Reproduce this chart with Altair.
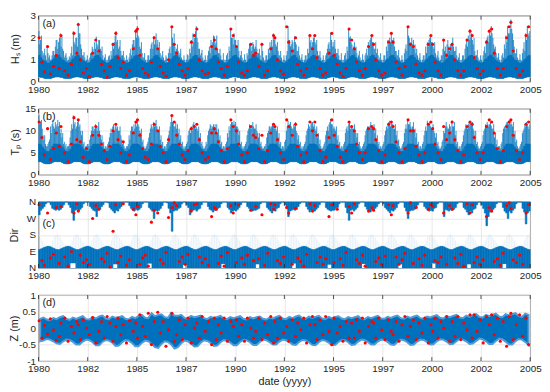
import altair as alt
import pandas as pd

YEARS = list(range(1980, 2005))
X_TICKS = [1980, 1982.5, 1985, 1987.5, 1990, 1992.5, 1995, 1997.5, 2000, 2002.5, 2005]
BLUE = "#0072BD"
RED = "#FF0000"
INK = "#262626"
FONT = "Liberation Sans"

# ---- (a) significant wave height: two spike values per month (Jan..Dec) ----
HS_PEAK = {
    1980: [2.3, 1.9, 1.4, 1.3, 1.2, 1.65, 1.1, 1.0, 1.2, 1.4, 1.6, 1.9],
    1981: [1.8, 2.2, 2.07, 1.4, 1.2, 1.1, 1.0, 1.1, 1.6, 2.3, 1.7, 2.0],
    1982: [2.68, 2.2, 1.5, 1.2, 1.1, 1.0, 1.0, 1.1, 1.3, 1.5, 1.8, 2.05],
    1983: [1.6, 1.9, 1.4, 1.2, 1.1, 1.0, 1.0, 1.2, 1.4, 1.77, 1.8, 2.3],
    1984: [1.9, 1.6, 1.4, 1.2, 1.1, 1.0, 1.0, 1.1, 1.5, 1.7, 1.9, 2.38],
    1985: [2.53, 2.0, 1.5, 1.3, 1.1, 1.0, 1.0, 1.2, 1.5, 1.8, 2.07, 1.92],
    1986: [1.7, 1.5, 1.3, 1.2, 1.1, 1.0, 1.1, 1.3, 1.6, 2.53, 1.77, 1.6],
    1987: [1.5, 1.4, 1.3, 1.1, 1.0, 1.0, 1.0, 1.2, 1.5, 1.9, 2.2, 2.0],
    1988: [2.53, 1.8, 1.5, 1.3, 1.1, 1.0, 1.0, 1.2, 1.6, 1.9, 1.8, 2.07],
    1989: [1.8, 1.5, 1.3, 1.2, 1.0, 1.0, 1.0, 1.3, 1.6, 2.45, 2.0, 2.2],
    1990: [1.9, 1.6, 1.4, 1.2, 1.1, 1.0, 1.0, 1.3, 1.5, 1.77, 1.6, 1.7],
    1991: [1.6, 1.5, 1.3, 1.2, 1.77, 1.1, 1.0, 1.2, 1.5, 1.8, 1.9, 2.2],
    1992: [2.07, 1.6, 1.4, 1.2, 1.1, 1.0, 1.0, 1.2, 2.53, 1.9, 1.7, 1.8],
    1993: [2.07, 1.7, 1.4, 1.2, 1.1, 1.0, 1.0, 1.2, 1.5, 2.15, 1.9, 1.8],
    1994: [2.15, 1.7, 1.4, 1.2, 1.1, 1.0, 1.0, 1.2, 1.5, 1.8, 2.2, 1.6],
    1995: [1.6, 1.5, 1.3, 1.2, 1.0, 1.0, 1.0, 1.3, 1.6, 2.45, 2.07, 1.7],
    1996: [1.6, 1.5, 1.3, 1.2, 1.1, 1.0, 1.0, 1.2, 1.5, 1.8, 1.9, 2.15],
    1997: [1.8, 1.5, 1.3, 1.2, 1.1, 1.0, 1.0, 1.2, 1.6, 1.9, 2.0, 2.2],
    1998: [1.9, 1.6, 1.4, 1.2, 1.1, 1.0, 1.0, 1.3, 1.7, 2.53, 2.0, 1.8],
    1999: [1.7, 1.5, 1.3, 1.2, 1.1, 1.0, 1.0, 1.2, 1.6, 1.8, 1.9, 2.15],
    2000: [1.8, 1.5, 1.3, 1.2, 1.1, 1.0, 1.2, 1.92, 1.6, 1.7, 1.6, 1.7],
    2001: [1.77, 1.6, 1.4, 1.2, 1.1, 1.0, 1.0, 1.2, 1.5, 1.9, 2.1, 2.38],
    2002: [2.2, 1.7, 1.4, 1.2, 1.1, 1.0, 1.0, 1.2, 1.6, 1.9, 2.1, 2.38],
    2003: [2.53, 2.0, 1.5, 1.3, 1.1, 1.0, 1.0, 1.3, 1.7, 2.1, 2.53, 2.2],
    2004: [2.83, 2.2, 1.6, 1.3, 1.1, 1.0, 1.0, 1.3, 1.8, 2.2, 2.53, 2.1],
}
HS_PEAK_B = {
    1980: [1.7, 2.1, 1.2, 1.5, 1.0, 1.3, 1.2, 0.95, 1.4, 1.2, 1.9, 1.5],
    1981: [2.0, 1.6, 1.5, 1.1, 1.3, 0.95, 1.15, 1.3, 1.2, 1.8, 2.0, 1.6],
    1982: [2.2, 1.7, 1.2, 1.35, 0.95, 1.2, 0.9, 1.3, 1.6, 1.2, 1.5, 1.7],
    1983: [1.9, 1.5, 1.6, 1.0, 1.25, 0.9, 1.15, 1.0, 1.2, 1.5, 2.1, 1.8],
    1984: [1.5, 1.9, 1.2, 1.4, 0.95, 1.2, 0.9, 1.3, 1.2, 1.9, 1.6, 2.0],
    1985: [2.1, 1.6, 1.8, 1.1, 1.3, 0.9, 1.2, 1.0, 1.7, 1.5, 1.7, 2.2],
    1986: [1.9, 1.8, 1.1, 1.4, 0.95, 1.2, 0.9, 1.5, 1.3, 2.0, 2.2, 1.4],
    1987: [1.7, 1.2, 1.5, 1.0, 1.2, 0.9, 1.25, 1.0, 1.3, 1.6, 1.8, 2.3],
    1988: [2.0, 1.5, 1.2, 1.45, 0.95, 1.2, 0.9, 1.4, 1.3, 1.6, 2.1, 1.7],
    1989: [2.1, 1.3, 1.5, 1.0, 1.3, 0.9, 1.2, 1.0, 1.4, 2.0, 1.7, 1.9],
    1990: [1.6, 1.9, 1.1, 1.4, 0.95, 1.25, 0.9, 1.2, 1.7, 1.4, 1.8, 1.5],
    1991: [1.9, 1.3, 1.5, 1.0, 1.4, 0.95, 1.2, 1.0, 1.3, 1.6, 1.6, 1.9],
    1992: [1.7, 1.8, 1.2, 1.4, 0.9, 1.2, 0.95, 1.4, 1.9, 1.6, 1.9, 1.5],
    1993: [1.8, 1.4, 1.6, 1.0, 1.25, 0.9, 1.2, 1.0, 1.3, 1.8, 1.6, 2.0],
    1994: [1.8, 1.9, 1.2, 1.4, 0.95, 1.2, 0.9, 1.3, 1.7, 1.5, 1.9, 1.8],
    1995: [1.9, 1.3, 1.5, 1.0, 1.3, 0.9, 1.2, 1.0, 1.4, 2.0, 1.8, 1.5],
    1996: [1.8, 1.6, 1.1, 1.4, 0.95, 1.25, 0.9, 1.3, 1.2, 1.6, 2.0, 1.8],
    1997: [1.5, 1.8, 1.5, 1.0, 1.3, 0.9, 1.2, 1.0, 1.4, 1.7, 1.8, 1.9],
    1998: [2.0, 1.4, 1.2, 1.45, 0.95, 1.2, 0.9, 1.5, 1.4, 2.1, 1.7, 2.0],
    1999: [1.9, 1.7, 1.5, 1.0, 1.3, 0.9, 1.2, 1.0, 1.3, 1.6, 2.0, 1.8],
    2000: [1.6, 1.8, 1.1, 1.4, 0.95, 1.2, 1.5, 1.4, 1.3, 1.9, 1.4, 1.6],
    2001: [2.0, 1.4, 1.6, 1.0, 1.3, 0.9, 1.2, 1.0, 1.7, 1.6, 1.9, 2.0],
    2002: [1.9, 2.0, 1.2, 1.45, 0.95, 1.2, 0.9, 1.4, 1.3, 2.0, 1.8, 2.1],
    2003: [2.2, 1.7, 1.6, 1.1, 1.3, 0.9, 1.2, 1.1, 1.5, 1.8, 2.2, 2.4],
    2004: [2.4, 1.9, 1.3, 1.5, 1.0, 1.25, 0.95, 1.5, 1.4, 1.9, 2.2, 2.3],
}
HS_BAND_LO = [0.22, 0.2, 0.2, 0.16, 0.15, 0.15, 0.15, 0.15, 0.18, 0.2, 0.22, 0.22]
HS_BAND_HI = [1.2, 1.1, 1.0, 0.95, 0.9, 0.85, 0.85, 0.9, 1.0, 1.05, 1.15, 1.2]

# ---- (b) peak period: two spike values per month (Jan..Dec) ----
TP_PEAK = {
    1980: [13.5, 12.0, 10.5, 8.0, 7.0, 6.5, 7.5, 11.0, 11.5, 11.0, 12.0, 11.5],
    1981: [11.0, 9.5, 8.5, 7.0, 6.5, 6.0, 6.5, 8.5, 11.5, 13.5, 12.0, 11.0],
    1982: [12.3, 11.5, 9.0, 7.0, 6.0, 6.5, 7.0, 8.0, 10.0, 11.0, 10.5, 11.2],
    1983: [11.0, 10.0, 8.0, 7.0, 6.0, 6.0, 7.0, 8.5, 10.5, 11.0, 10.0, 11.5],
    1984: [11.0, 10.0, 9.0, 7.0, 6.5, 6.0, 6.5, 9.0, 10.0, 11.0, 11.5, 12.0],
    1985: [12.7, 11.0, 9.5, 7.5, 6.5, 6.0, 7.0, 8.5, 10.5, 11.0, 12.0, 11.5],
    1986: [11.0, 10.0, 8.0, 7.0, 6.0, 6.5, 7.0, 9.0, 11.0, 13.4, 12.0, 11.0],
    1987: [10.5, 9.5, 8.0, 7.0, 6.0, 6.0, 7.0, 9.0, 10.5, 11.0, 11.5, 11.2],
    1988: [11.0, 10.0, 8.5, 7.0, 6.5, 6.0, 7.5, 9.0, 10.5, 11.2, 11.0, 10.5],
    1989: [10.5, 9.5, 8.0, 7.0, 6.0, 6.5, 7.0, 9.5, 11.0, 11.5, 12.0, 12.3],
    1990: [12.0, 11.0, 9.0, 7.0, 6.0, 6.0, 7.0, 9.0, 10.5, 11.0, 11.2, 11.0],
    1991: [10.5, 10.0, 8.5, 7.0, 6.5, 6.0, 6.5, 8.5, 10.0, 11.0, 11.0, 11.2],
    1992: [11.0, 10.0, 8.5, 7.0, 6.0, 6.5, 7.5, 10.0, 12.3, 11.5, 11.0, 10.5],
    1993: [11.0, 10.0, 8.0, 7.0, 6.0, 6.0, 7.0, 9.0, 10.5, 11.0, 11.5, 12.0],
    1994: [11.5, 10.0, 8.5, 7.0, 6.5, 6.0, 7.0, 9.0, 11.0, 11.5, 12.7, 11.5],
    1995: [11.0, 10.0, 8.0, 7.0, 6.0, 6.0, 7.0, 9.5, 11.0, 11.5, 10.4, 11.0],
    1996: [10.5, 10.0, 8.5, 7.0, 6.5, 6.0, 7.0, 9.0, 10.5, 11.0, 11.2, 11.0],
    1997: [10.5, 9.5, 8.0, 7.0, 6.0, 6.0, 7.0, 9.0, 11.0, 11.5, 12.3, 12.0],
    1998: [11.5, 10.5, 9.0, 7.5, 6.5, 6.0, 7.0, 9.5, 11.5, 12.3, 11.5, 11.0],
    1999: [11.0, 10.0, 8.5, 7.0, 6.0, 6.5, 7.0, 9.0, 11.0, 12.3, 11.5, 11.0],
    2000: [10.5, 10.0, 8.5, 7.0, 6.5, 6.0, 7.5, 10.0, 11.0, 11.0, 10.5, 11.0],
    2001: [12.3, 11.0, 9.0, 7.0, 6.0, 6.0, 7.0, 9.0, 10.5, 11.0, 11.5, 11.2],
    2002: [11.2, 10.5, 9.0, 7.0, 6.5, 6.0, 7.0, 9.0, 10.5, 11.0, 11.5, 11.5],
    2003: [11.2, 10.5, 8.5, 7.0, 6.0, 6.5, 7.0, 9.5, 11.0, 11.5, 12.0, 12.5],
    2004: [12.7, 11.0, 9.0, 7.5, 6.5, 6.0, 7.0, 9.5, 10.5, 11.0, 11.5, 10.4],
}
TP_PEAK_B = {
    1980: [11.5, 12.5, 9.0, 9.0, 6.5, 7.0, 8.0, 9.5, 12.5, 10.5, 11.0, 12.5],
    1981: [12.0, 10.5, 9.5, 7.5, 7.0, 6.5, 7.0, 10.0, 10.5, 11.5, 10.5, 12.0],
    1982: [11.0, 10.0, 10.0, 7.5, 6.5, 7.0, 6.5, 9.0, 11.0, 10.0, 11.5, 10.0],
    1983: [12.0, 9.0, 9.0, 7.5, 6.5, 6.5, 7.5, 9.5, 9.5, 11.5, 11.0, 10.5],
    1984: [10.0, 11.0, 8.0, 7.5, 6.0, 6.5, 7.0, 8.0, 11.0, 10.0, 10.5, 11.0],
    1985: [11.5, 10.0, 10.5, 8.0, 6.0, 6.5, 7.5, 9.5, 11.5, 10.5, 11.0, 12.5],
    1986: [10.0, 11.0, 9.0, 7.5, 6.5, 6.0, 7.5, 10.0, 12.0, 12.0, 11.0, 12.0],
    1987: [11.5, 10.5, 9.0, 7.5, 6.5, 6.5, 7.5, 10.0, 9.5, 10.0, 12.0, 10.5],
    1988: [10.5, 11.0, 9.5, 7.5, 6.0, 6.5, 7.0, 10.0, 11.5, 10.5, 11.5, 11.5],
    1989: [11.5, 10.5, 9.0, 7.5, 6.5, 6.0, 7.5, 8.5, 10.0, 12.0, 11.0, 11.5],
    1990: [11.0, 10.5, 10.0, 7.5, 6.5, 6.5, 7.5, 10.0, 11.5, 10.5, 12.0, 10.5],
    1991: [11.5, 9.5, 9.5, 7.5, 6.0, 6.5, 7.0, 9.5, 11.0, 10.5, 11.5, 10.5],
    1992: [10.5, 11.0, 9.5, 7.5, 6.5, 6.0, 8.0, 11.0, 11.0, 12.0, 10.5, 11.5],
    1993: [12.0, 9.5, 9.0, 7.5, 6.5, 6.5, 7.5, 10.0, 11.5, 10.5, 12.0, 11.0],
    1994: [10.5, 11.0, 9.5, 8.0, 6.0, 6.5, 7.5, 10.0, 10.0, 12.0, 11.5, 10.5],
    1995: [10.5, 11.0, 9.0, 7.5, 6.5, 6.5, 7.5, 10.5, 10.0, 12.0, 11.0, 10.5],
    1996: [11.5, 9.5, 9.5, 7.5, 6.0, 6.5, 7.5, 10.0, 11.0, 10.5, 12.0, 10.5],
    1997: [11.5, 10.5, 9.0, 7.5, 6.5, 6.5, 7.5, 10.0, 10.5, 12.0, 11.0, 11.5],
    1998: [10.5, 11.5, 10.0, 8.0, 6.0, 6.5, 7.5, 10.5, 10.5, 11.5, 12.0, 10.5],
    1999: [12.0, 10.5, 9.5, 7.5, 6.5, 6.0, 7.5, 10.0, 10.0, 11.5, 12.0, 10.5],
    2000: [11.5, 9.5, 9.5, 7.5, 6.0, 6.5, 8.0, 9.5, 12.0, 10.5, 11.5, 10.0],
    2001: [11.0, 12.0, 10.0, 7.5, 6.5, 6.5, 7.5, 10.0, 11.5, 10.5, 12.0, 12.0],
    2002: [12.0, 10.0, 10.0, 7.5, 6.0, 6.5, 7.5, 10.0, 11.5, 12.0, 11.0, 12.0],
    2003: [10.5, 11.5, 9.5, 8.0, 6.5, 6.0, 7.5, 10.5, 10.5, 12.0, 11.5, 11.5],
    2004: [11.5, 12.0, 10.0, 8.0, 6.0, 6.5, 7.5, 10.0, 11.5, 12.0, 11.0, 11.5],
}
TP_BAND_LO = [3.0, 3.0, 2.8, 2.6, 2.5, 2.5, 2.5, 2.6, 2.8, 3.0, 3.0, 3.0]
TP_BAND_HI = [7.0, 6.8, 6.3, 5.8, 5.4, 5.3, 5.3, 5.8, 6.5, 7.0, 7.0, 7.0]

# ---- (c) direction (degrees): bottom band top, sparse reach, top band start ----
DIR_BOT = [100, 104, 108, 112, 115, 118, 118, 115, 110, 106, 102, 100]
DIR_SPARSE = [175, 165, 150, 135, 125, 120, 120, 130, 150, 170, 180, 185]
DIR_TOP = {
    1980: [290, 315, 325, 335, 350, 360, 360, 345, 325, 320, 315, 320],
    1981: [315, 320, 330, 345, 360, 360, 345, 330, 300, 260, 315, 320],
    1982: [310, 320, 330, 350, 360, 360, 360, 335, 325, 315, 310, 280],
    1983: [315, 320, 335, 345, 360, 360, 355, 330, 320, 310, 300, 315],
    1984: [310, 325, 335, 350, 360, 360, 360, 340, 325, 315, 310, 320],
    1985: [315, 320, 330, 350, 360, 360, 360, 330, 320, 310, 270, 315],
    1986: [310, 315, 325, 340, 360, 360, 355, 325, 300, 200, 310, 315],
    1987: [315, 325, 330, 350, 360, 360, 345, 330, 290, 315, 315, 320],
    1988: [310, 320, 325, 345, 360, 360, 360, 335, 320, 315, 305, 315],
    1989: [315, 325, 330, 350, 360, 360, 360, 330, 320, 300, 310, 315],
    1990: [310, 320, 330, 345, 360, 360, 360, 335, 325, 315, 310, 315],
    1991: [315, 320, 325, 350, 360, 360, 360, 330, 320, 310, 300, 315],
    1992: [310, 325, 330, 350, 360, 360, 345, 325, 280, 310, 315, 320],
    1993: [315, 320, 335, 350, 360, 360, 360, 335, 320, 305, 315, 315],
    1994: [310, 320, 330, 345, 360, 360, 360, 330, 320, 315, 310, 315],
    1995: [315, 325, 330, 350, 360, 360, 360, 330, 300, 260, 315, 320],
    1996: [310, 320, 330, 350, 360, 360, 360, 335, 320, 310, 305, 315],
    1997: [315, 325, 335, 350, 360, 360, 350, 330, 320, 310, 300, 315],
    1998: [310, 320, 330, 350, 360, 360, 360, 330, 310, 270, 310, 315],
    1999: [315, 320, 330, 345, 360, 360, 360, 335, 325, 315, 310, 315],
    2000: [310, 325, 330, 350, 360, 360, 360, 280, 320, 315, 310, 320],
    2001: [315, 320, 330, 350, 360, 360, 360, 330, 320, 305, 290, 310],
    2002: [300, 320, 325, 345, 360, 360, 345, 325, 300, 230, 280, 305],
    2003: [310, 320, 330, 350, 360, 360, 360, 330, 310, 300, 270, 310],
    2004: [300, 315, 325, 350, 360, 360, 360, 325, 305, 240, 300, 310],
}
DIR_NOTCH_START = [1981.62, 1983.80, 1985.55, 1987.35, 1989.30, 1991.05, 1992.90,
                   1994.70, 1996.45, 1998.30, 2000.00, 2001.80, 2003.60]
DIR_NOTCH_END = [1981.88, 1984.00, 1985.75, 1987.55, 1989.48, 1991.22, 1993.08,
                 1994.88, 1996.62, 1998.48, 2000.18, 2001.98, 2003.78]
DIR_NOTCH_DEPTH = [26, 20, 24, 18, 22, 20, 24, 18, 22, 20, 24, 20, 22]

# ---- (d) water level: bimonthly envelope (Jan-Feb .. Nov-Dec) ----
Z_HI = {
    1980: [0.28, 0.32, 0.26, 0.24, 0.30, 0.27], 1981: [0.33, 0.36, 0.28, 0.25, 0.32, 0.28],
    1982: [0.32, 0.36, 0.27, 0.26, 0.33, 0.29], 1983: [0.35, 0.38, 0.29, 0.27, 0.35, 0.31],
    1984: [0.33, 0.36, 0.28, 0.26, 0.34, 0.30], 1985: [0.36, 0.40, 0.31, 0.30, 0.45, 0.36],
    1986: [0.40, 0.42, 0.33, 0.31, 0.46, 0.37], 1987: [0.37, 0.40, 0.31, 0.28, 0.37, 0.33],
    1988: [0.35, 0.38, 0.30, 0.27, 0.34, 0.31], 1989: [0.34, 0.37, 0.29, 0.27, 0.33, 0.30],
    1990: [0.33, 0.36, 0.28, 0.26, 0.33, 0.29], 1991: [0.33, 0.35, 0.28, 0.26, 0.32, 0.29],
    1992: [0.34, 0.37, 0.29, 0.27, 0.34, 0.30], 1993: [0.35, 0.38, 0.30, 0.28, 0.35, 0.31],
    1994: [0.34, 0.37, 0.29, 0.27, 0.34, 0.30], 1995: [0.34, 0.36, 0.29, 0.27, 0.33, 0.30],
    1996: [0.33, 0.36, 0.28, 0.27, 0.33, 0.30], 1997: [0.34, 0.37, 0.29, 0.28, 0.34, 0.31],
    1998: [0.35, 0.38, 0.30, 0.28, 0.35, 0.31], 1999: [0.35, 0.38, 0.30, 0.28, 0.35, 0.32],
    2000: [0.36, 0.39, 0.31, 0.29, 0.36, 0.33], 2001: [0.37, 0.40, 0.32, 0.30, 0.38, 0.34],
    2002: [0.39, 0.42, 0.34, 0.32, 0.40, 0.36], 2003: [0.40, 0.44, 0.35, 0.33, 0.42, 0.38],
    2004: [0.42, 0.45, 0.36, 0.34, 0.44, 0.40],
}
Z_LO = {
    1980: [-0.40, -0.38, -0.33, -0.35, -0.40, -0.46], 1981: [-0.48, -0.40, -0.35, -0.36, -0.42, -0.50],
    1982: [-0.50, -0.41, -0.35, -0.37, -0.43, -0.52], 1983: [-0.52, -0.42, -0.36, -0.38, -0.44, -0.54],
    1984: [-0.53, -0.43, -0.36, -0.38, -0.45, -0.55], 1985: [-0.55, -0.45, -0.38, -0.40, -0.48, -0.58],
    1986: [-0.60, -0.48, -0.40, -0.42, -0.50, -0.62], 1987: [-0.58, -0.46, -0.38, -0.40, -0.47, -0.56],
    1988: [-0.55, -0.44, -0.37, -0.39, -0.45, -0.54], 1989: [-0.53, -0.43, -0.36, -0.38, -0.44, -0.52],
    1990: [-0.52, -0.42, -0.36, -0.37, -0.43, -0.51], 1991: [-0.51, -0.42, -0.35, -0.37, -0.43, -0.50],
    1992: [-0.50, -0.41, -0.35, -0.37, -0.42, -0.50], 1993: [-0.51, -0.42, -0.36, -0.37, -0.43, -0.51],
    1994: [-0.52, -0.43, -0.36, -0.38, -0.44, -0.52], 1995: [-0.51, -0.42, -0.36, -0.37, -0.43, -0.51],
    1996: [-0.50, -0.41, -0.35, -0.36, -0.42, -0.50], 1997: [-0.50, -0.41, -0.35, -0.36, -0.42, -0.50],
    1998: [-0.51, -0.42, -0.35, -0.37, -0.43, -0.51], 1999: [-0.50, -0.41, -0.35, -0.36, -0.42, -0.50],
    2000: [-0.49, -0.40, -0.34, -0.35, -0.41, -0.49], 2001: [-0.48, -0.40, -0.33, -0.35, -0.40, -0.48],
    2002: [-0.47, -0.39, -0.32, -0.34, -0.40, -0.48], 2003: [-0.48, -0.39, -0.32, -0.34, -0.41, -0.50],
    2004: [-0.50, -0.40, -0.33, -0.35, -0.42, -0.52],
}

# ---- red selected cases: time offset within year and value in each panel ----
RED_T = {
    1980: [.03, .17, .30, .46, .60, .76, .90], 1981: [.05, .14, .33, .50, .67, .80, .95],
    1982: [.02, .12, .28, .44, .58, .75, .91], 1983: [.07, .20, .35, .49, .63, .79, .93],
    1984: [.04, .18, .31, .47, .62, .82, .95], 1985: [.03, .15, .29, .43, .58, .74, .88],
    1986: [.06, .19, .34, .48, .61, .78, .90], 1987: [.02, .16, .30, .45, .60, .77, .92],
    1988: [.05, .18, .32, .48, .64, .80, .94], 1989: [.03, .14, .29, .44, .60, .78, .90],
    1990: [.06, .17, .33, .47, .62, .79, .93], 1991: [.04, .20, .36, .50, .65, .81, .95],
    1992: [.02, .15, .30, .46, .62, .72, .90], 1993: [.07, .18, .33, .49, .63, .80, .93],
    1994: [.05, .16, .31, .46, .60, .77, .91], 1995: [.03, .19, .34, .48, .64, .79, .92],
    1996: [.06, .17, .32, .47, .61, .78, .95], 1997: [.04, .15, .30, .45, .62, .80, .94],
    1998: [.03, .18, .33, .48, .63, .79, .91], 1999: [.06, .20, .35, .50, .64, .82, .95],
    2000: [.04, .16, .31, .46, .60, .75, .90], 2001: [.03, .17, .32, .47, .62, .79, .94],
    2002: [.05, .15, .30, .45, .61, .78, .92], 2003: [.04, .17, .33, .48, .63, .80, .93],
    2004: [.02, .14, .30, .46, .62, .79, .92],
}
RED_HS = {
    1980: [2.0, 0.9, 0.45, 1.6, 0.35, 0.7, 1.2], 1981: [0.6, 2.1, 0.5, 0.3, 0.8, 2.2, 1.3],
    1982: [2.6, 1.0, 0.4, 0.6, 0.25, 1.3, 1.9], 1983: [1.4, 0.8, 0.5, 0.2, 0.7, 1.7, 2.2],
    1984: [1.1, 0.6, 0.9, 0.3, 0.5, 1.5, 2.3], 1985: [2.4, 1.2, 0.6, 0.4, 0.3, 0.9, 2.0],
    1986: [1.5, 0.7, 0.4, 0.25, 1.0, 2.5, 1.7], 1987: [1.3, 0.8, 0.5, 0.3, 0.6, 1.8, 2.1],
    1988: [2.4, 1.0, 0.5, 0.35, 0.4, 1.6, 1.9], 1989: [1.5, 0.9, 0.6, 0.3, 0.7, 2.4, 2.1],
    1990: [1.6, 0.9, 0.4, 0.3, 0.5, 1.7, 1.2], 1991: [1.3, 0.7, 1.7, 0.3, 0.5, 1.5, 2.1],
    1992: [2.0, 1.0, 0.5, 0.35, 2.5, 1.8, 1.4], 1993: [2.0, 0.8, 0.5, 0.3, 0.6, 2.1, 1.5],
    1994: [2.1, 1.1, 0.6, 0.3, 0.4, 1.3, 2.2], 1995: [1.2, 0.8, 0.4, 0.25, 0.6, 2.4, 1.9],
    1996: [1.5, 0.9, 0.5, 0.3, 0.6, 1.6, 2.1], 1997: [1.7, 1.0, 0.5, 0.3, 0.4, 1.8, 2.2],
    1998: [1.8, 0.9, 0.6, 0.3, 0.7, 2.5, 1.7], 1999: [1.6, 0.8, 0.4, 0.3, 0.5, 1.7, 2.1],
    2000: [1.7, 0.9, 0.5, 0.3, 1.9, 1.2, 1.5], 2001: [1.7, 1.0, 0.5, 0.3, 0.5, 1.9, 2.3],
    2002: [2.1, 1.1, 0.6, 0.35, 0.5, 1.8, 2.3], 2003: [2.4, 1.3, 0.6, 0.3, 0.6, 2.0, 2.5],
    2004: [2.7, 1.4, 0.6, 0.3, 0.5, 2.1, 2.5],
}
RED_TP = {
    1980: [12.0, 8.5, 4.5, 10.5, 3.5, 6.0, 9.5], 1981: [6.5, 11.0, 5.0, 3.0, 7.0, 13.0, 8.0],
    1982: [12.5, 7.5, 4.0, 6.0, 3.0, 9.0, 11.0], 1983: [9.0, 7.0, 5.5, 3.5, 6.5, 10.0, 11.5],
    1984: [8.0, 5.0, 7.5, 3.0, 4.5, 9.5, 12.0], 1985: [12.5, 9.0, 6.0, 4.0, 3.5, 7.0, 11.5],
    1986: [10.0, 6.5, 5.0, 3.0, 8.0, 13.5, 12.0], 1987: [9.0, 7.0, 4.5, 3.5, 5.5, 10.5, 11.0],
    1988: [11.5, 8.0, 5.0, 3.5, 4.0, 9.5, 10.5], 1989: [9.5, 7.5, 5.5, 3.0, 6.0, 12.5, 11.0],
    1990: [10.0, 7.0, 4.5, 3.0, 5.0, 11.0, 9.0], 1991: [8.5, 6.0, 9.0, 3.0, 5.5, 9.5, 11.5],
    1992: [11.0, 8.0, 5.0, 3.5, 12.5, 11.0, 9.0], 1993: [11.5, 6.5, 4.5, 3.0, 5.0, 12.0, 10.0],
    1994: [12.0, 9.0, 5.5, 3.0, 4.0, 8.5, 12.5], 1995: [9.0, 6.5, 4.0, 3.0, 5.5, 12.0, 11.0],
    1996: [10.0, 7.0, 5.0, 3.5, 5.0, 10.5, 11.0], 1997: [10.5, 8.0, 5.5, 3.0, 4.5, 11.5, 12.0],
    1998: [11.0, 7.5, 5.0, 3.0, 6.0, 12.5, 10.0], 1999: [10.0, 6.5, 4.5, 3.0, 5.0, 11.5, 12.0],
    2000: [10.5, 7.0, 5.0, 3.5, 11.0, 8.0, 9.5], 2001: [12.0, 8.0, 5.5, 3.0, 4.5, 11.0, 12.0],
    2002: [11.5, 8.5, 5.0, 3.5, 5.0, 11.0, 12.5], 2003: [12.0, 9.5, 6.0, 3.0, 5.5, 11.0, 12.0],
    2004: [12.5, 9.0, 5.5, 3.5, 5.0, 11.5, 12.0],
}
RED_DIR = {
    1980: [345, 40, 15, 300, 55, 75, 330], 1981: [25, 335, 60, 10, 90, 300, 350],
    1982: [310, 70, 30, 45, 20, 270, 340], 1983: [320, 50, 35, 80, 5, 200, 345],
    1984: [30, 65, 350, 15, 45, 320, 290], 1985: [335, 20, 55, 70, 10, 250, 315],
    1986: [300, 45, 25, 85, 275, 330, 355], 1987: [340, 35, 60, 20, 75, 310, 345],
    1988: [350, 60, 30, 50, 15, 280, 330], 1989: [320, 25, 65, 10, 85, 340, 300],
    1990: [30, 345, 55, 20, 70, 315, 40], 1991: [335, 50, 290, 15, 80, 350, 320],
    1992: [345, 40, 25, 60, 330, 300, 20], 1993: [325, 55, 35, 10, 75, 350, 310],
    1994: [340, 30, 60, 20, 50, 280, 345], 1995: [30, 320, 50, 15, 85, 335, 300],
    1996: [350, 45, 25, 70, 10, 310, 330], 1997: [315, 35, 55, 20, 65, 345, 290],
    1998: [340, 60, 20, 45, 80, 300, 355], 1999: [25, 330, 50, 15, 70, 320, 345],
    2000: [335, 40, 30, 60, 300, 20, 340], 2001: [320, 55, 25, 75, 10, 350, 300],
    2002: [345, 30, 60, 20, 45, 280, 330], 2003: [310, 35, 50, 15, 80, 340, 355],
    2004: [325, 45, 30, 70, 20, 300, 345],
}
RED_Z = {
    1980: [0.22, -0.30, 0.08, -0.18, 0.28, -0.05, -0.38], 1981: [-0.25, 0.15, 0.30, -0.40, 0.05, -0.15, 0.20],
    1982: [0.10, -0.35, 0.25, 0.00, -0.20, 0.32, -0.45], 1983: [-0.10, 0.20, -0.30, 0.35, 0.15, -0.40, 0.05],
    1984: [0.30, -0.20, 0.10, -0.45, 0.22, -0.10, 0.15], 1985: [-0.30, 0.40, 0.05, -0.25, 0.45, -0.50, 0.20],
    1986: [0.48, -0.15, 0.20, -0.55, -0.05, 0.45, -0.40], 1987: [-0.20, 0.25, -0.35, 0.10, 0.30, -0.45, 0.00],
    1988: [0.15, -0.30, 0.35, -0.10, 0.20, -0.50, 0.30], 1989: [-0.35, 0.10, -0.15, 0.30, -0.40, 0.20, 0.05],
    1990: [0.25, -0.25, 0.10, -0.40, 0.30, 0.00, -0.30], 1991: [-0.10, 0.30, -0.35, 0.15, -0.20, 0.35, -0.45],
    1992: [0.20, -0.30, 0.30, -0.15, 0.05, -0.40, 0.25], 1993: [-0.25, 0.15, -0.05, 0.30, -0.45, 0.10, 0.35],
    1994: [0.10, -0.35, 0.25, -0.20, 0.35, -0.10, -0.50], 1995: [0.30, -0.15, 0.05, -0.40, 0.20, -0.30, 0.15],
    1996: [-0.30, 0.25, -0.10, 0.30, -0.45, 0.05, 0.20], 1997: [0.15, -0.30, 0.30, -0.05, -0.35, 0.25, -0.10],
    1998: [-0.20, 0.20, -0.40, 0.10, 0.35, -0.25, 0.05], 1999: [0.25, -0.35, 0.15, -0.15, 0.30, -0.45, 0.10],
    2000: [-0.10, 0.30, -0.30, 0.20, 0.00, 0.35, -0.40], 2001: [0.20, -0.25, 0.35, -0.35, 0.15, -0.05, 0.40],
    2002: [-0.30, 0.40, -0.10, 0.25, -0.45, 0.35, 0.10], 2003: [0.40, -0.20, 0.30, -0.40, 0.20, -0.55, 0.35],
    2004: [0.45, -0.35, 0.10, 0.40, -0.25, 0.30, -0.50],
}

# ---------------- tables ----------------
monthly, spikes = [], []
for yr in YEARS:
    for m in range(12):
        monthly.append({
            "t0": yr + m / 12, "t1": yr + (m + 1) / 12, "t": yr + (m + 0.5) / 12,
            "hs_lo": HS_BAND_LO[m], "hs_hi": HS_BAND_HI[m],
            "tp_lo": TP_BAND_LO[m], "tp_hi": TP_BAND_HI[m],
            "d_bot": DIR_BOT[m], "d_sp": DIR_SPARSE[m], "d_top": DIR_TOP[yr][m], "d_max": 360,
            "zero": 0,
        })
        spikes.append({"t": yr + (m + 0.25) / 12, "hs_lo": HS_BAND_LO[m], "hs_pk": HS_PEAK[yr][m],
                       "tp_lo": TP_BAND_LO[m], "tp_pk": TP_PEAK[yr][m]})
        spikes.append({"t": yr + (m + 0.75) / 12, "hs_lo": HS_BAND_LO[m], "hs_pk": HS_PEAK_B[yr][m],
                       "tp_lo": TP_BAND_LO[m], "tp_pk": TP_PEAK_B[yr][m]})
monthly = pd.DataFrame(monthly)
spikes = pd.DataFrame(spikes)

zband = []
for yr in YEARS:
    for k in range(6):
        zband.append({"t": yr + (k + 0.5) / 6, "z_lo": Z_LO[yr][k], "z_hi": Z_HI[yr][k]})
zband = pd.DataFrame(zband)

notch = pd.DataFrame({"t0": DIR_NOTCH_START, "t1": DIR_NOTCH_END,
                      "d0": [0] * len(DIR_NOTCH_START), "d1": DIR_NOTCH_DEPTH})

red = []
for yr in YEARS:
    for i in range(len(RED_T[yr])):
        red.append({"t": yr + RED_T[yr][i], "hs": RED_HS[yr][i], "tp": RED_TP[yr][i],
                    "dir": RED_DIR[yr][i], "z": RED_Z[yr][i]})
red = pd.DataFrame(red)

xticks_df = pd.DataFrame({"t": X_TICKS})

W, H = 499, 67


def xenc(field="t", last=False):
    ax = alt.Axis(values=X_TICKS, labelExpr="'' + floor(datum.value)", grid=True,
                  ticks=False, domain=False, labelPadding=3, labelFlush=False,
                  title="date (yyyy)" if last else None, titlePadding=2)
    return alt.X(f"{field}:Q", scale=alt.Scale(domain=[1980, 2005], nice=False, zero=False), axis=ax)


def yenc(field, domain, values, title, label_expr, title_x):
    ax = alt.Axis(values=values, labelExpr=label_expr, grid=True, ticks=False, domain=False,
                  labelPadding=3, title=title, titleX=title_x, titleBaseline="middle")
    return alt.Y(f"{field}:Q", scale=alt.Scale(domain=domain, nice=False, zero=False), axis=ax)


def inner_ticks(last):
    top = alt.Chart(xticks_df).mark_rule(color=INK, strokeWidth=0.8).encode(
        x=xenc(last=last), y=alt.value(0), y2=alt.value(4))
    bot = alt.Chart(xticks_df).mark_rule(color=INK, strokeWidth=0.8).encode(
        x=xenc(last=last), y=alt.value(H - 4), y2=alt.value(H))
    return [top, bot]


def label(txt, py):
    return alt.Chart(pd.DataFrame({"lab": [txt]})).mark_text(
        align="left", baseline="middle", fontSize=11, font=FONT, color=INK).encode(
        text="lab:N", x=alt.value(4), y=alt.value(py))


def panel_band(lo, hi, pk, ycol, dom, vals, title, lab, lexpr):
    ydef = lambda f: yenc(f, dom, vals, title, lexpr, -23)
    sp = alt.Chart(spikes).mark_rule(color=BLUE, strokeWidth=0.9, opacity=0.9).encode(
        x=xenc(), y=ydef(lo), y2=f"{pk}:Q")
    band = alt.Chart(monthly).mark_rect(color=BLUE, stroke=BLUE, strokeWidth=0.6).encode(
        x=xenc("t0"), x2="t1:Q", y=ydef(lo), y2=f"{hi}:Q")
    pts = alt.Chart(red).mark_circle(color=RED, size=10, opacity=1).encode(
        x=xenc(), y=ydef(ycol))
    return alt.layer(sp, band, pts, *inner_ticks(False), label(lab, 8)).properties(width=W, height=H)


num_expr = "datum.value < 0 ? '-' + format(-datum.value, '~g') : format(datum.value, '~g')"

pa = panel_band("hs_lo", "hs_hi", "hs_pk", "hs", [0, 3], [0, 1, 2, 3], "H\u209b (m)", "(a)", num_expr)
pb = panel_band("tp_lo", "tp_hi", "tp_pk", "tp", [0, 15], [0, 5, 10, 15], "T\u209a (s)", "(b)", num_expr)

dir_expr = ("datum.value == 0 ? 'N' : datum.value == 90 ? 'E' : datum.value == 180 ? 'S' : "
            "datum.value == 270 ? 'W' : 'N'")
ydir = lambda f: yenc(f, [0, 360], [0, 90, 180, 270, 360], "Dir", dir_expr, -24)
d_sparse = alt.Chart(monthly).mark_rule(color=BLUE, strokeWidth=1.0, opacity=0.1).encode(
    x=xenc(), y=ydir("d_bot"), y2="d_sp:Q")
d_bot = alt.Chart(monthly).mark_rect(color=BLUE, stroke=BLUE, strokeWidth=0.6).encode(
    x=xenc("t0"), x2="t1:Q", y=ydir("zero"), y2="d_bot:Q")
d_top = alt.Chart(monthly).mark_rect(color=BLUE, stroke=BLUE, strokeWidth=0.6).encode(
    x=xenc("t0"), x2="t1:Q", y=ydir("d_top"), y2="d_max:Q")
d_notch = alt.Chart(notch).mark_rect(color="white").encode(
    x=xenc("t0"), x2="t1:Q", y=ydir("d0"), y2="d1:Q")
d_pts = alt.Chart(red).mark_circle(color=RED, size=10, opacity=1).encode(x=xenc(), y=ydir("dir"))
pc = alt.layer(d_sparse, d_bot, d_top, d_notch, d_pts, *inner_ticks(False), label("(c)", 22)).properties(width=W, height=H)

yz = lambda f: yenc(f, [-1, 1], [-1, -0.5, 0, 0.5, 1], "Z (m)", num_expr, -24.5)
z_area = alt.Chart(zband).mark_area(color=BLUE, stroke="#4f9cd8", strokeWidth=2, opacity=1).encode(
    x=xenc(last=True), y=yz("z_lo"), y2="z_hi:Q")
z_pts = alt.Chart(red).mark_circle(color=RED, size=10, opacity=1).encode(x=xenc(last=True), y=yz("z"))
pd_ = alt.layer(z_area, z_pts, *inner_ticks(True), label("(d)", 8)).properties(width=W, height=H)

chart = alt.vconcat(pa, pb, pc, pd_, spacing=7.5).properties(
    padding={"left": 0, "top": -1, "right": 0, "bottom": 0}
).configure_view(stroke=INK, strokeWidth=0.8).configure_axis(
    labelFont=FONT, titleFont=FONT, labelFontSize=10, titleFontSize=11,
    labelColor=INK, titleColor=INK, titleFontWeight="normal",
    gridColor="#e2e2e2", gridWidth=0.8,
)

chart.save("out.html", embed_options={"renderer": "svg", "actions": False})
